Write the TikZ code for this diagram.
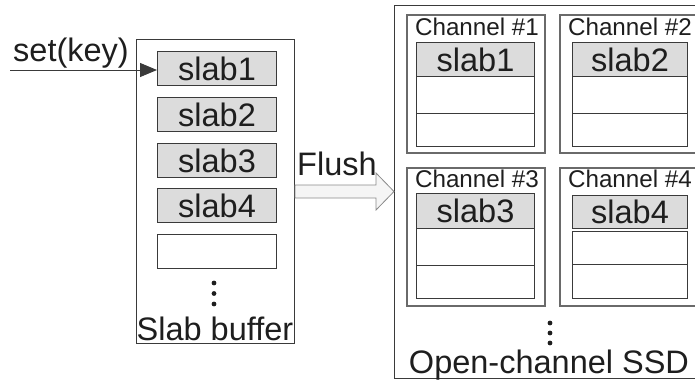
\documentclass[tikz,border=0pt]{standalone}
\usepackage{fontspec}
\setmainfont{Liberation Sans}
\usetikzlibrary{arrows.meta,calc}
\definecolor{edge}{HTML}{3A3A3A}
\definecolor{chedge}{HTML}{6A6A6A}
\definecolor{slabfill}{HTML}{DCDCDC}
\definecolor{ink}{HTML}{1E1E1E}
\definecolor{flushfill}{HTML}{F5F5F5}
\definecolor{flushedge}{HTML}{8A8A8A}
\tikzset{
  big/.style={font=\fontsize{32.5}{38}\selectfont, text=ink, inner sep=0pt},
  chtitle/.style={font=\fontsize{24.2}{29}\selectfont, text=ink, inner sep=0pt, anchor=base},
  box/.style={draw=edge, line width=1pt, inner sep=0pt, anchor=north west},
  cell/.style={box, minimum width=119pt, minimum height=34pt, big},
  slabcell/.style={cell, fill=slabfill},
  chbox/.style={draw=chedge, line width=1.6pt, inner sep=0pt, anchor=north west,
                minimum width=138pt, minimum height=138pt},
  flusharrow/.style={draw=flushedge, fill=flushfill, line width=0.8pt},
  dot/.style={fill=ink}
}
\begin{document}
\begin{tikzpicture}[x=1pt,y=-1pt]
  \useasboundingbox (0,0) rectangle (695,383);
  \clip (0,0) rectangle (695,383);

  % ---- slab buffer ----
  \node[box, minimum width=158pt, minimum height=304pt] (buf) at (136,39) {};
  \node[slabcell] (b1) at (157,51)  {slab1};
  \node[slabcell] (b2) at (157,97)  {slab2};
  \node[slabcell] (b3) at (157,143) {slab3};
  \node[slabcell] (b4) at (157,188) {slab4};
  \node[cell]     (b5) at (157,234) {};
  \foreach \y in {283,293.5,304} \fill[dot] (214,\y) circle (2.4);
  \node[big, anchor=base] (buflabel) at (215,340) {Slab buffer};

  % ---- incoming set(key) ----
  \node[big, anchor=base west] (setkey) at (13,61) {set(key)};
  \coordinate (keyin) at (10,70);
  \draw[edge, line width=1pt, -{Triangle[length=17pt,width=14pt]}]
    (keyin) -- (keyin -| b1.west);

  % ---- open-channel SSD ----
  \node[box, minimum width=320pt, minimum height=373pt] (ssd) at (394,5) {};

  \node[chbox] (ch1) at (406,14)  {};
  \node[chbox] (ch2) at (559,14)  {};
  \node[chbox] (ch3) at (406,167) {};
  \node[chbox] (ch4) at (559,167) {};

  \node[chtitle] (t1) at (477,35)  {Channel \#1};
  \node[chtitle] (t2) at (630,35)  {Channel \#2};
  \node[chtitle] (t3) at (477,187) {Channel \#3};
  \node[chtitle] (t4) at (630,187) {Channel \#4};

  % channel 1
  \node[slabcell, minimum width=118pt] (c1a) at (416,42) {slab1};
  \node[cell, minimum width=118pt, minimum height=37pt] (c1b) at (416,76) {};
  \node[cell, minimum width=118pt, minimum height=33pt] (c1c) at (416,113) {};
  % channel 2
  \node[slabcell, minimum width=115pt] (c2a) at (572,42) {slab2};
  \node[cell, minimum width=115pt, minimum height=37pt] (c2b) at (572,76) {};
  \node[cell, minimum width=115pt, minimum height=33pt] (c2c) at (572,113) {};
  % channel 3
  \node[slabcell, minimum width=118pt, minimum height=35pt] (c3a) at (416,193) {slab3};
  \node[cell, minimum width=118pt, minimum height=37pt] (c3b) at (416,228) {};
  \node[cell, minimum width=118pt, minimum height=33pt] (c3c) at (416,265) {};
  % channel 4
  \node[slabcell, minimum width=115pt, minimum height=33pt] (c4a) at (572,195) {slab4};
  \node[cell, minimum width=115pt, minimum height=33pt] (c4b) at (572,231) {};
  \node[cell, minimum width=115pt, minimum height=34pt] (c4c) at (572,264) {};

  \foreach \y in {323,333,343} \fill[dot] (550,\y) circle (2.4);
  \node[big, anchor=base] (ssdlabel) at (549,373) {Open-channel SSD};

  % ---- flush arrow from buffer to SSD ----
  \draw[flusharrow]
    ($(buf.east)+(0,-6.5)$) -- ($(ssd.west |- buf.east)+(-18,-6.5)$)
    -- ($(ssd.west |- buf.east)+(-18,-18.5)$) -- (ssd.west |- buf.east)
    -- ($(ssd.west |- buf.east)+(-18,18.5)$) -- ($(ssd.west |- buf.east)+(-18,6.5)$)
    -- ($(buf.east)+(0,6.5)$) -- cycle;
  \node[big, anchor=base west] (flushlabel) at (297,175) {Flush};
\end{tikzpicture}
\end{document}
